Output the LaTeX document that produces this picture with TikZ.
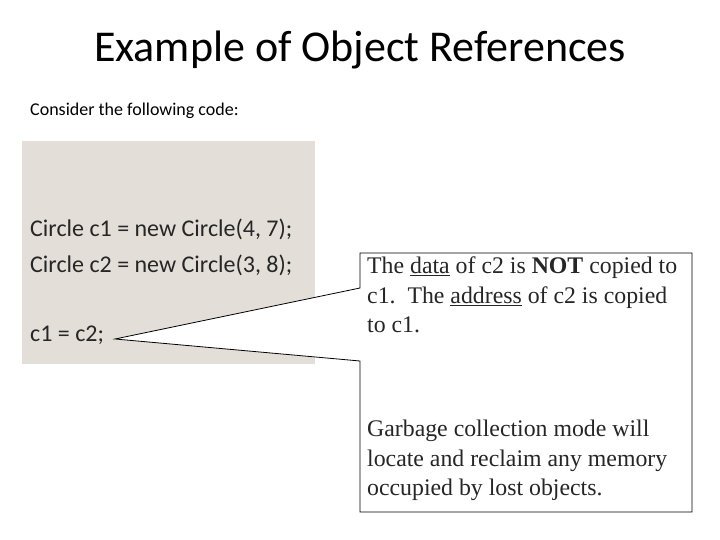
\documentclass[tikz,border=0pt]{standalone}
\usepackage{fontspec}
\setmainfont{Carlito}
\newfontfamily\serif{Liberation Serif}
\begin{document}
\begin{tikzpicture}[x=1pt,y=-1pt,
  code/.style={anchor=west,inner sep=0,font=\fontsize{24}{28}\selectfont,text=black!85},
  note/.style={anchor=north west,inner sep=0,align=left,font=\serif\fontsize{23.8}{29.5}\selectfont,text=black!85}]
\useasboundingbox (0,0) rectangle (720,540);
\fill[white] (0,0) rectangle (720,540);
\node (title) at (360,50) {\fontsize{44}{50}\selectfont Example of Object References};
\node[anchor=west,inner sep=0] (consider) at (30,111) {\fontsize{18}{21}\selectfont Consider the following code:};
\fill[fill={rgb,255:red,227;green,223;blue,216}] (22,141) rectangle (315,364);
\node[code] (l1) at (30,229) {Circle c1 = new Circle(4, 7);};
\node[code] (l2) at (30,265) {Circle c2 = new Circle(3, 8);};
\node[code] (l3) at (30,335) {c1 = c2;};
\coordinate (tip) at (115,339);
\draw[fill=white,line width=0.8pt] (360,253) -- (692,253) -- (692,512) -- (360,512) -- (360,361) -- (tip) -- (360,288) -- cycle;
\node[note] (n1) at (367,257) {The \underline{data} of c2 is \textbf{NOT} copied to\\c1.\ \ The \underline{address} of c2 is copied\\to c1.};
\node[note] (n2) at (367,420) {Garbage collection mode will\\locate and reclaim any memory\\occupied by lost objects.};
\end{tikzpicture}
\end{document}
